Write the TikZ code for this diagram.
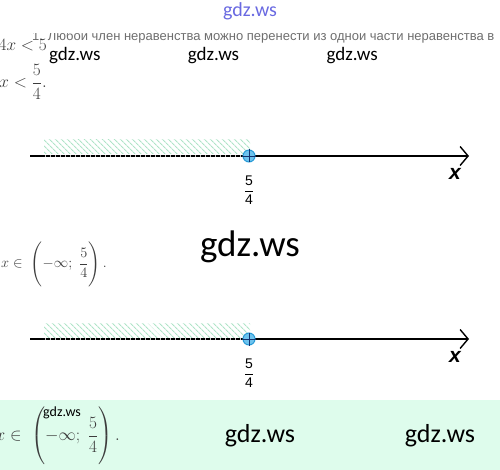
\documentclass[tikz,border=0pt]{standalone}
\usepackage{amsmath,amssymb}
\usepackage{fontspec}
\usepackage{xcolor}
\usepackage{tikz}
\usetikzlibrary{positioning,calc,patterns.meta,arrows.meta}

\newfontfamily\wmfont{Carlito}
\newfontfamily\arial{Liberation Sans}

\definecolor{hatchgreen}{RGB}{175,228,200}
\definecolor{bandgreen}{RGB}{222,252,236}
\definecolor{pointfill}{RGB}{110,195,238}
\definecolor{pointedge}{RGB}{40,155,215}
\definecolor{crossblue}{RGB}{20,50,110}
\definecolor{formgray}{RGB}{60,60,60}
\definecolor{rulegray}{RGB}{110,110,110}
\definecolor{wmblue}{RGB}{105,105,225}

\begin{document}
\begin{tikzpicture}[x=1pt, y=-1pt,
    wm/.style={font=\wmfont\fontsize{19}{19}\selectfont, inner sep=0pt},
    mathtxt/.style={text=formgray, font=\fontsize{15}{15}\selectfont, inner sep=0pt},
    axis/.style={line width=1.6pt, -{Straight Barb[length=8pt, width=19pt, line width=1.4pt]}},
    hatch/.style={pattern={Lines[angle=-45, distance=4pt, line width=1.2pt]}, pattern color=hatchgreen},
    point/.style={circle, draw=pointedge, fill=pointfill, line width=1pt, minimum size=12pt, inner sep=0pt},
    fraclab/.style={font=\arial\fontsize{14}{14}\selectfont, inner sep=0pt},
    xlab/.style={font=\arial\bfseries\itshape\fontsize{21}{21}\selectfont, inner sep=0pt}]
    \useasboundingbox (0,0) rectangle (500,470);

    % answer band
    \fill [bandgreen] (0,400) rectangle (500,470);

    % header
    \node [wm, text=wmblue, font=\wmfont\fontsize{20}{20}\selectfont] (wmTop) at (250,11) {gdz.ws};
    \begin{scope}
        \clip (0,34) rectangle (500,50);
        \node [anchor=base west, inner sep=0pt, text=rulegray, font=\arial\fontsize{13}{13}\selectfont] (rule) at (32,41) {1. Любой член неравенства можно перенести из одной части неравенства в};
    \end{scope}
    \node [mathtxt, font=\fontsize{16}{16}\selectfont, anchor=base east] (ineqA) at (47,51) {$4x<5$};
    \node [mathtxt, font=\fontsize{16}{16}\selectfont, anchor=east] (ineqB) at (47,82) {$x<\dfrac{5}{4}.$};
    \node [wm, anchor=base west] (wmA) at (49,61) {gdz.ws};
    \node [wm, right=87pt of wmA] (wmB) {gdz.ws};
    \node [wm, right=87pt of wmB] (wmC) {gdz.ws};

    % number line 1
    \coordinate (s1) at (30,156);
    \coordinate (e1) at (469,156);
    \fill [hatch] (44,140) rectangle (250,154);
    \draw [axis] (s1) -- (e1);
    \node [point] (p1) at (249,156) {};
    \draw [dash pattern=on 1pt off 4pt, line width=1.6pt, gray!45] (45,156) -- (p1.west);
    \draw [crossblue, line width=0.8pt] (p1.north) -- (p1.south) (p1.west) -- (p1.east);
    \node [fraclab, below=13pt of p1] (f1) {$\dfrac{\mbox{5}}{\mbox{4}}$};
    \node [xlab] (x1) at (455,174) {x};

    % interval
    \node [wm, font=\wmfont\fontsize{37}{37}\selectfont] (wmBig) at (250,247) {gdz.ws};
    \node [mathtxt, anchor=east] (setA) at (107,264) {$x\in\;\left(-\infty;\ \dfrac{5}{4}\vcenter{\hbox{\rule{0pt}{40pt}}}\right).$};

    % number line 2
    \coordinate (s2) at (30,339);
    \coordinate (e2) at (469,339);
    \fill [hatch] (44,323) rectangle (250,337);
    \draw [axis] (s2) -- (e2);
    \node [point] (p2) at (249,339) {};
    \draw [dash pattern=on 1pt off 4pt, line width=1.6pt, gray!45] (45,339) -- (p2.west);
    \draw [crossblue, line width=0.8pt] (p2.north) -- (p2.south) (p2.west) -- (p2.east);
    \node [fraclab, below=13pt of p2] (f2) {$\dfrac{\mbox{5}}{\mbox{4}}$};
    \node [xlab] (x2) at (455,357) {x};

    % answer
    \node [mathtxt, font=\fontsize{16}{16}\selectfont, anchor=east] (setB) at (120,436) {$x\in\;\left(-\infty;\ \dfrac{5}{4}\vcenter{\hbox{\rule{0pt}{54pt}}}\right).$};
    \node [wm, font=\wmfont\fontsize{14}{14}\selectfont, anchor=base west] (wmSmall) at (43,416) {gdz.ws};
    \node [wm, font=\wmfont\fontsize{26}{26}\selectfont] (wmD) at (260,436) {gdz.ws};
    \node [wm, font=\wmfont\fontsize{26}{26}\selectfont] (wmE) at (440,436) {gdz.ws};
\end{tikzpicture}
\end{document}
